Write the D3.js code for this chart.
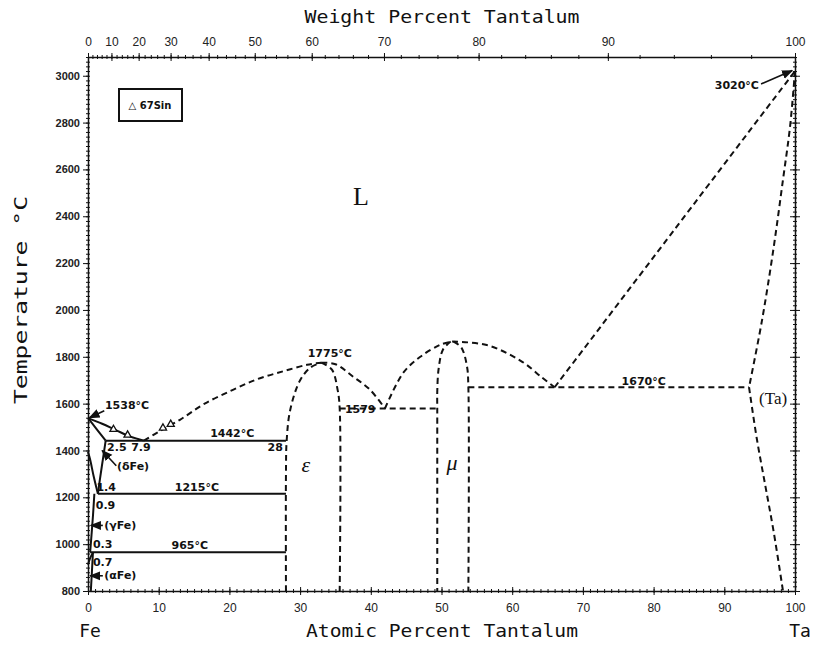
<!DOCTYPE html>
<html>
<head>
<meta charset="utf-8">
<script src="https://cdn.jsdelivr.net/npm/d3@7"></script>
<style>
  body { margin: 0; background: #fff; }
  .axis path, .axis line { stroke: #111; }
  .bnd { fill: none; stroke: #111; stroke-width: 2; }
  .bnd.dash { stroke-dasharray: 6,4; }
  .ann { font-family: "DejaVu Sans", sans-serif; font-size: 11px; font-weight: bold; fill: #111; }
  .ttl { font-family: "DejaVu Sans Mono", monospace; font-size: 18px; fill: #111; }
  .tickl { font-family: "Liberation Sans", sans-serif; font-size: 11px; font-weight: bold; fill: #222; }
</style>
</head>
<body>
<div id="chart"></div>
<script>
// axis ticks
var atTicks = d3.range(0, 101, 10);
var wtTicks = d3.range(0, 101, 10);
var tempTicks = d3.range(800, 3001, 200);

// solid boundaries (at% Ta, deg C)
var liquidusFe = [[0,1538],[2,1514],[4,1486],[6,1459],[7.9,1442]];
var solidusFe = [[0,1538],[1,1500],[2,1461],[2.5,1442]];
var deltaSolvus = [[2.5,1442],[2.1,1361],[1.7,1280],[1.4,1215]];
var gammaDelta = [[0,1394],[0.3,1361],[0.8,1290],[1.2,1240],[1.4,1215]];
var gammaSolvus = [[0.9,1215],[0.7,1120],[0.5,1040],[0.3,965]];
var alphaSolvus = [[0.7,965],[0.55,880],[0.4,800]];
var alphaGamma = [[0,912],[0.3,940],[0.7,965]];

// dashed boundaries
var liquidusEps = [[7.9,1442],[10,1480],[13,1531],[16.5,1600],[20.5,1659],[24,1705],[27.6,1738],[31,1766],[33,1775]];
var liquidusEpsR = [[33,1775],[35,1768],[37.5,1715],[39.9,1659],[42,1579]];
var epsLeft = [[28,800],[28,1300],[28.1,1442],[28.6,1573],[30,1700],[31.5,1755],[33,1775]];
var epsRight = [[33,1775],[34.5,1745],[35.3,1660],[35.6,1579],[35.6,800]];
var liquidusMuL = [[42,1579],[44.6,1732],[47,1800],[49.8,1851],[51.5,1865]];
var liquidusMuR = [[51.5,1865],[56.4,1850],[61.2,1783],[64.2,1712],[66,1670]];
var muLeft = [[51.3,1865],[50.2,1830],[49.6,1750],[49.4,1650],[49.4,1579],[49.4,800]];
var muRight = [[51.7,1865],[52.8,1840],[53.6,1760],[53.8,1670],[53.8,800]];
var liquidusTa = [[66,1670],[83,2345],[100,3020]];
var solidusTa = [[100,3020],[99.3,2783],[98.3,2556],[96.9,2250],[95.3,1950],[93.5,1670]];
var solvusTa = [[93.5,1670],[94.6,1450],[95.8,1250],[97.0,1050],[98.3,800]];

// isotherms: [temperature, from at%, to at%]
var solidIsotherms = [[1442,2.5,28],[1215,1.4,28],[965,0.3,28]];
var dashedIsotherms = [[1579,35.6,49.4],[1670,53.8,93.5]];

// experimental points (67Sin)
var sinPoints = [[3.6,1490],[5.6,1466],[10.6,1496],[11.7,1512]];

// annotations: [text, at%, temp, anchor]
var labels = [
  ["1538\u00b0C", 2.4, 1576, "start"],
  ["1442\u00b0C", 20.4, 1459, "middle"],
  ["1215\u00b0C", 15.4, 1229, "middle"],
  ["965\u00b0C", 14.4, 980, "middle"],
  ["1775\u00b0C", 34.2, 1797, "middle"],
  ["1579", 38.5, 1560, "middle"],
  ["1670\u00b0C", 78.6, 1678, "middle"],
  ["3020\u00b0C", 94.9, 2943, "end"],
  ["2.5", 2.7, 1396, "start"],
  ["7.9", 6.1, 1396, "start"],
  ["28", 25.4, 1396, "start"],
  ["(\u03b4Fe)", 4.1, 1315, "start"],
  ["1.4", 1.2, 1226, "start"],
  ["0.9", 1.1, 1149, "start"],
  ["0.3", 0.7, 983, "start"],
  ["0.7", 0.7, 906, "start"],
  ["(\u03b3Fe)", 2.3, 1063, "start"],
  ["(\u03b1Fe)", 2.3, 850, "start"]
];
var phaseLabels = [["L", 38.6, 2450], ["\u03b5", 30.8, 1310], ["\u03bc", 51.5, 1317], ["(Ta)", 96.9, 1598]];

// arrows: [from at%, from T, to at%, to T]
var arrows = [[2.3,1570,0.2,1540],[95.2,2965,99.6,3022],[2.1,1080,0.4,1080],[2.1,865,0.3,865],[4.0,1335,2.0,1400]];

var W = 821, H = 645;
var margin = {top: 57, right: 26, bottom: 54, left: 88};

var svg = d3.select("#chart").append("svg")
    .attr("width", W)
    .attr("height", H);

var x = d3.scaleLinear().domain([0, 100]).range([margin.left, W - margin.right]);
var y = d3.scaleLinear().domain([800, 3080]).range([H - margin.bottom, margin.top]);

var wtToAt = function(w) {
    var a = w / 180.948, b = (100 - w) / 55.845;
    return 100 * a / (a + b);
};

// crossing ticks helper
function crossTicks(g, vertical, len) {
    g.selectAll(".tick line")
        .attr(vertical ? "y1" : "x1", -len)
        .attr(vertical ? "y2" : "x2", len);
}

var y0 = y(800), yT = margin.top, x0 = x(0), x1 = x(100);

// bottom axis
svg.append("g").attr("class", "axis")
    .attr("transform", "translate(0," + y0 + ")")
    .call(d3.axisBottom(x).tickValues(d3.range(0, 101, 1)).tickSize(0).tickFormat(""))
    .call(function(g){ crossTicks(g, true, 2); g.select(".domain").attr("stroke-width", 1.5); });
var bx = svg.append("g").attr("class", "axis")
    .attr("transform", "translate(0," + y0 + ")")
    .call(d3.axisBottom(x).tickValues(atTicks).tickSize(0).tickPadding(12));
crossTicks(bx, true, 4);
bx.select(".domain").remove();
bx.selectAll("text").attr("class", "tickl").style("font-size", "12px").style("font-weight", "normal");

// top axis (weight percent)
svg.append("g").attr("class", "axis")
    .attr("transform", "translate(0," + yT + ")")
    .call(d3.axisTop(x).tickValues(d3.range(0, 100, 2).map(wtToAt)).tickSize(0).tickFormat(""))
    .call(function(g){ crossTicks(g, true, 2); g.select(".domain").attr("stroke-width", 1.5); });
var tx = svg.append("g").attr("class", "axis")
    .attr("transform", "translate(0," + yT + ")")
    .call(d3.axisTop(x).tickValues(wtTicks.map(wtToAt)).tickSize(0).tickPadding(11)
        .tickFormat(function(d, i){ return wtTicks[i]; }));
crossTicks(tx, true, 4);
tx.select(".domain").remove();
tx.selectAll("text").attr("class", "tickl").style("font-size", "12px").style("font-weight", "normal");

// left axis
svg.append("g").attr("class", "axis")
    .attr("transform", "translate(" + x0 + ",0)")
    .call(d3.axisLeft(y).tickValues(d3.range(800, 3081, 20)).tickSize(0).tickFormat(""))
    .call(function(g){ crossTicks(g, false, 2); g.select(".domain").attr("stroke-width", 1.5); });
var ly = svg.append("g").attr("class", "axis")
    .attr("transform", "translate(" + x0 + ",0)")
    .call(d3.axisLeft(y).tickValues(tempTicks).tickSize(5).tickPadding(3).tickFormat(d3.format("d")));
ly.select(".domain").remove();
ly.selectAll("text").attr("class", "tickl");

// right axis
svg.append("g").attr("class", "axis")
    .attr("transform", "translate(" + x1 + ",0)")
    .call(d3.axisRight(y).tickValues(d3.range(800, 3081, 20)).tickSize(0).tickFormat(""))
    .call(function(g){ crossTicks(g, false, 2); g.select(".domain").attr("stroke-width", 1.5); });
var ry = svg.append("g").attr("class", "axis")
    .attr("transform", "translate(" + x1 + ",0)")
    .call(d3.axisRight(y).tickValues(tempTicks).tickSize(0).tickFormat(""));
crossTicks(ry, false, 5);
ry.select(".domain").remove();

// axis titles
svg.append("text").attr("class", "ttl")
    .attr("x", 442).attr("y", 23).attr("text-anchor", "middle")
    .attr("textLength", 275).attr("lengthAdjust", "spacingAndGlyphs")
    .text("Weight Percent Tantalum");
svg.append("text").attr("class", "ttl")
    .attr("x", 442).attr("y", 637).attr("text-anchor", "middle")
    .attr("textLength", 272).attr("lengthAdjust", "spacingAndGlyphs")
    .text("Atomic Percent Tantalum");
svg.append("text").attr("class", "ttl")
    .attr("x", 90).attr("y", 637).attr("text-anchor", "middle").text("Fe");
svg.append("text").attr("class", "ttl")
    .attr("x", 800).attr("y", 637).attr("text-anchor", "middle").text("Ta");
svg.append("text").attr("class", "ttl")
    .attr("transform", "translate(27,300) rotate(-90)")
    .attr("text-anchor", "middle")
    .attr("textLength", 208).attr("lengthAdjust", "spacingAndGlyphs")
    .text("Temperature \u00b0C");

// legend box
svg.append("rect")
    .attr("x", 119).attr("y", 89).attr("width", 63).attr("height", 32)
    .attr("fill", "none").attr("stroke", "#111").attr("stroke-width", 2);
svg.append("text").attr("class", "ann")
    .attr("x", 150).attr("y", 109).attr("text-anchor", "middle")
    .style("font-size", "10px")
    .text("\u25b3 67Sin");

// boundaries
var line = d3.line()
    .x(function(d){ return x(d[0]); })
    .y(function(d){ return y(d[1]); })
    .curve(d3.curveCatmullRom.alpha(0.5));

var solid = [liquidusFe, solidusFe, deltaSolvus, gammaDelta, gammaSolvus, alphaSolvus, alphaGamma];
var dashed = [liquidusEps, liquidusEpsR, epsLeft, epsRight, liquidusMuL, liquidusMuR, muLeft, muRight, liquidusTa, solidusTa, solvusTa];

svg.selectAll(".bnd.solidb").data(solid).enter().append("path")
    .attr("class", "bnd solidb").attr("d", line);
svg.selectAll(".bnd.dash").data(dashed).enter().append("path")
    .attr("class", "bnd dash").attr("d", line);

svg.selectAll(".iso-s").data(solidIsotherms).enter().append("line")
    .attr("class", "bnd iso-s")
    .attr("x1", function(d){ return x(d[1]); }).attr("x2", function(d){ return x(d[2]); })
    .attr("y1", function(d){ return y(d[0]); }).attr("y2", function(d){ return y(d[0]); });
svg.selectAll(".iso-d").data(dashedIsotherms).enter().append("line")
    .attr("class", "bnd dash iso-d")
    .attr("x1", function(d){ return x(d[1]); }).attr("x2", function(d){ return x(d[2]); })
    .attr("y1", function(d){ return y(d[0]); }).attr("y2", function(d){ return y(d[0]); });

// data triangles
svg.selectAll(".sin").data(sinPoints).enter().append("path")
    .attr("class", "sin")
    .attr("transform", function(d){ return "translate(" + x(d[0]) + "," + y(d[1]) + ")"; })
    .attr("d", d3.symbol().type(d3.symbolTriangle).size(22))
    .attr("fill", "#fff").attr("stroke", "#111").attr("stroke-width", 1.3);

// arrows
svg.append("defs").append("marker")
    .attr("id", "arr").attr("viewBox", "0 0 10 10")
    .attr("refX", 9).attr("refY", 5)
    .attr("markerWidth", 7).attr("markerHeight", 7)
    .attr("orient", "auto")
    .append("path").attr("d", "M0,1 L10,5 L0,9 z").attr("fill", "#111");

svg.selectAll(".arrow").data(arrows).enter().append("line")
    .attr("class", "arrow")
    .attr("x1", function(d){ return x(d[0]); }).attr("y1", function(d){ return y(d[1]); })
    .attr("x2", function(d){ return x(d[2]); }).attr("y2", function(d){ return y(d[3]); })
    .attr("stroke", "#111").attr("stroke-width", 1.6)
    .attr("marker-end", "url(#arr)");

// annotations
svg.selectAll(".lab").data(labels).enter().append("text")
    .attr("class", "ann lab")
    .attr("x", function(d){ return x(d[1]); })
    .attr("y", function(d){ return y(d[2]); })
    .attr("text-anchor", function(d){ return d[3]; })
    .text(function(d){ return d[0]; });

svg.selectAll(".phase").data(phaseLabels).enter().append("text")
    .attr("class", "phase")
    .attr("x", function(d){ return x(d[1]); })
    .attr("y", function(d){ return y(d[2]); })
    .attr("text-anchor", "middle")
    .style("font-family", "'Liberation Serif', serif")
    .style("font-size", function(d){ return d[0] === "L" ? "26px" : (d[0] === "(Ta)" ? "17px" : "22px"); })
    .style("font-style", function(d){ return d[0].length === 1 && d[0] !== "L" ? "italic" : "normal"; })
    .attr("fill", "#111")
    .text(function(d){ return d[0]; });
</script>
</body>
</html>
